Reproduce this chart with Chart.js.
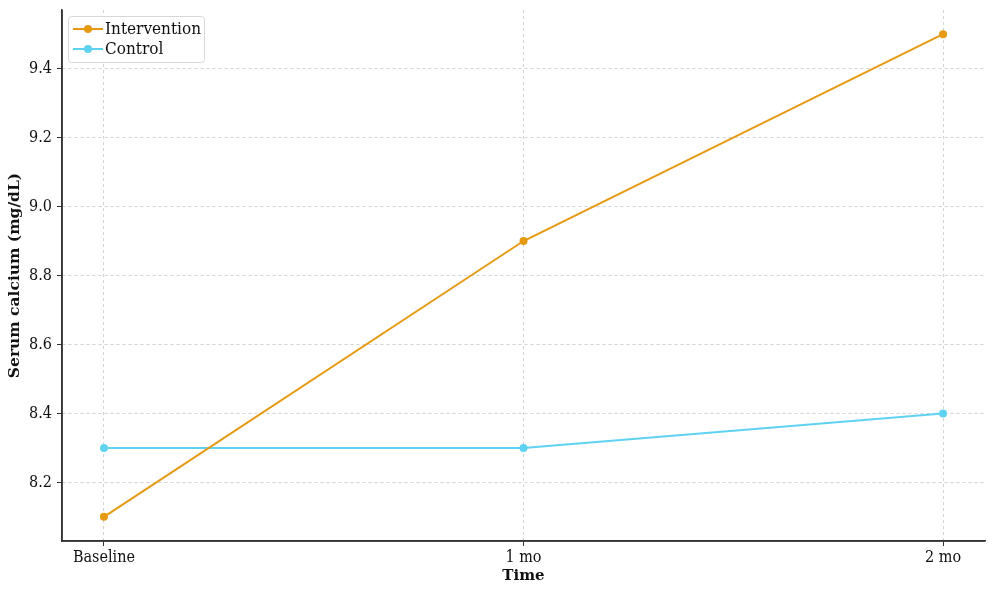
<!DOCTYPE html>
<html>
<head>
<meta charset="utf-8">
<script src="https://cdn.jsdelivr.net/npm/chart.js@4"></script>
<style>
html,body{margin:0;padding:0;background:#fff;}
#wrap{width:1000px;height:593px;position:relative;}
</style>
</head>
<body>
<div id="wrap"><canvas id="c" width="1000" height="593"></canvas></div>
<script>
const categories = ["Baseline", "1 mo", "2 mo"];
const intervention = [8.1, 8.9, 9.5];
const control = [8.3, 8.3, 8.4];
const yTicks = [8.2, 8.4, 8.6, 8.8, 9.0, 9.2, 9.4];
const seriesNames = ["Intervention", "Control"];
const seriesColors = ["#E69A12", "#5FD2F2"];

const FONT = "'DejaVu Serif', serif";
const FONTC = "'DejaVu Serif Condensed', 'DejaVu Serif', serif";

const legendInside = {
  id: 'legendInside',
  afterDraw(chart) {
    const ctx = chart.ctx;
    const a = chart.chartArea;
    const x0 = a.left + 6, y0 = a.top + 6, w = 136, h = 46;
    ctx.save();
    ctx.fillStyle = 'rgba(255,255,255,0.85)';
    ctx.strokeStyle = '#d8d8d8';
    ctx.lineWidth = 1;
    ctx.beginPath();
    ctx.roundRect(x0 + 0.5, y0 + 0.5, w, h, 3);
    ctx.fill();
    ctx.stroke();
    ctx.font = "17px " + FONTC;
    ctx.textBaseline = 'middle';
    chart.data.datasets.forEach((ds, i) => {
      const cy = y0 + 13 + i * 20;
      ctx.strokeStyle = ds.borderColor;
      ctx.lineWidth = 2;
      ctx.beginPath();
      ctx.moveTo(x0 + 5, cy);
      ctx.lineTo(x0 + 35, cy);
      ctx.stroke();
      ctx.fillStyle = ds.borderColor;
      ctx.beginPath();
      ctx.arc(x0 + 20, cy, 4, 0, Math.PI * 2);
      ctx.fill();
      ctx.fillStyle = '#111';
      ctx.fillText(ds.label, x0 + 37, cy + 1);
    });
    ctx.restore();
  }
};

new Chart(document.getElementById('c'), {
  type: 'line',
  data: {
    datasets: [
      {
        label: seriesNames[0],
        data: categories.map((c, i) => ({x: i, y: intervention[i]})),
        borderColor: seriesColors[0],
        backgroundColor: seriesColors[0],
        borderWidth: 2,
        pointRadius: 4,
        pointBorderWidth: 0,
        tension: 0
      },
      {
        label: seriesNames[1],
        data: categories.map((c, i) => ({x: i, y: control[i]})),
        borderColor: seriesColors[1],
        backgroundColor: seriesColors[1],
        borderWidth: 2,
        pointRadius: 4,
        pointBorderWidth: 0,
        tension: 0
      }
    ]
  },
  options: {
    responsive: false,
    animation: false,
    devicePixelRatio: 1,
    layout: { padding: { left: 6, right: 15, top: 10, bottom: 8 } },
    plugins: { legend: { display: false }, tooltip: { enabled: false } },
    scales: {
      x: {
        type: 'linear',
        min: -0.1,
        max: 2.1,
        afterBuildTicks: (s) => { s.ticks = categories.map((c, i) => ({value: i})); },
        afterFit: (s) => { s.height = 44; s.paddingLeft = 0; s.paddingRight = 0; },
        ticks: {
          callback: (v) => categories[v],
          color: '#111',
          font: { family: FONTC, size: 16 },
          padding: 2,
          maxRotation: 0
        },
        grid: {
          color: '#cfd4d6',
          lineWidth: 1,
          drawTicks: true,
          tickLength: 5,
          tickColor: '#333'
        },
        border: { display: true, color: '#333', width: 1.5, dash: [3, 3] },
        title: {
          display: true,
          text: 'Time',
          color: '#111',
          font: { family: FONT, size: 15, weight: 'bold' },
          padding: { top: 0, bottom: 0 }
        }
      },
      y: {
        type: 'linear',
        min: 8.03,
        max: 9.57,
        afterBuildTicks: (s) => { s.ticks = yTicks.map(v => ({value: v})); },
        afterFit: (s) => { s.width = 56; s.paddingTop = 0; s.paddingBottom = 0; },
        ticks: {
          callback: (v) => v.toFixed(1),
          color: '#111',
          font: { family: FONTC, size: 16 },
          padding: 5
        },
        grid: {
          color: '#cfd4d6',
          lineWidth: 1,
          drawTicks: true,
          tickLength: 5,
          tickColor: '#333'
        },
        border: { display: true, color: '#333', width: 1.5, dash: [3, 3] },
        title: {
          display: true,
          text: 'Serum calcium (mg/dL)',
          color: '#111',
          font: { family: FONT, size: 15.5, weight: 'bold' },
          padding: { top: 0, bottom: 0 }
        }
      }
    }
  },
  plugins: [legendInside, {
    id: 'solidAxes',
    afterDraw(chart) {
      const ctx = chart.ctx, a = chart.chartArea;
      ctx.save();
      ctx.strokeStyle = '#333';
      ctx.lineWidth = 1.5;
      ctx.beginPath();
      ctx.moveTo(a.left, a.top);
      ctx.lineTo(a.left, a.bottom);
      ctx.lineTo(a.right, a.bottom);
      ctx.stroke();
      ctx.restore();
    }
  }]
});
</script>
</body>
</html>
